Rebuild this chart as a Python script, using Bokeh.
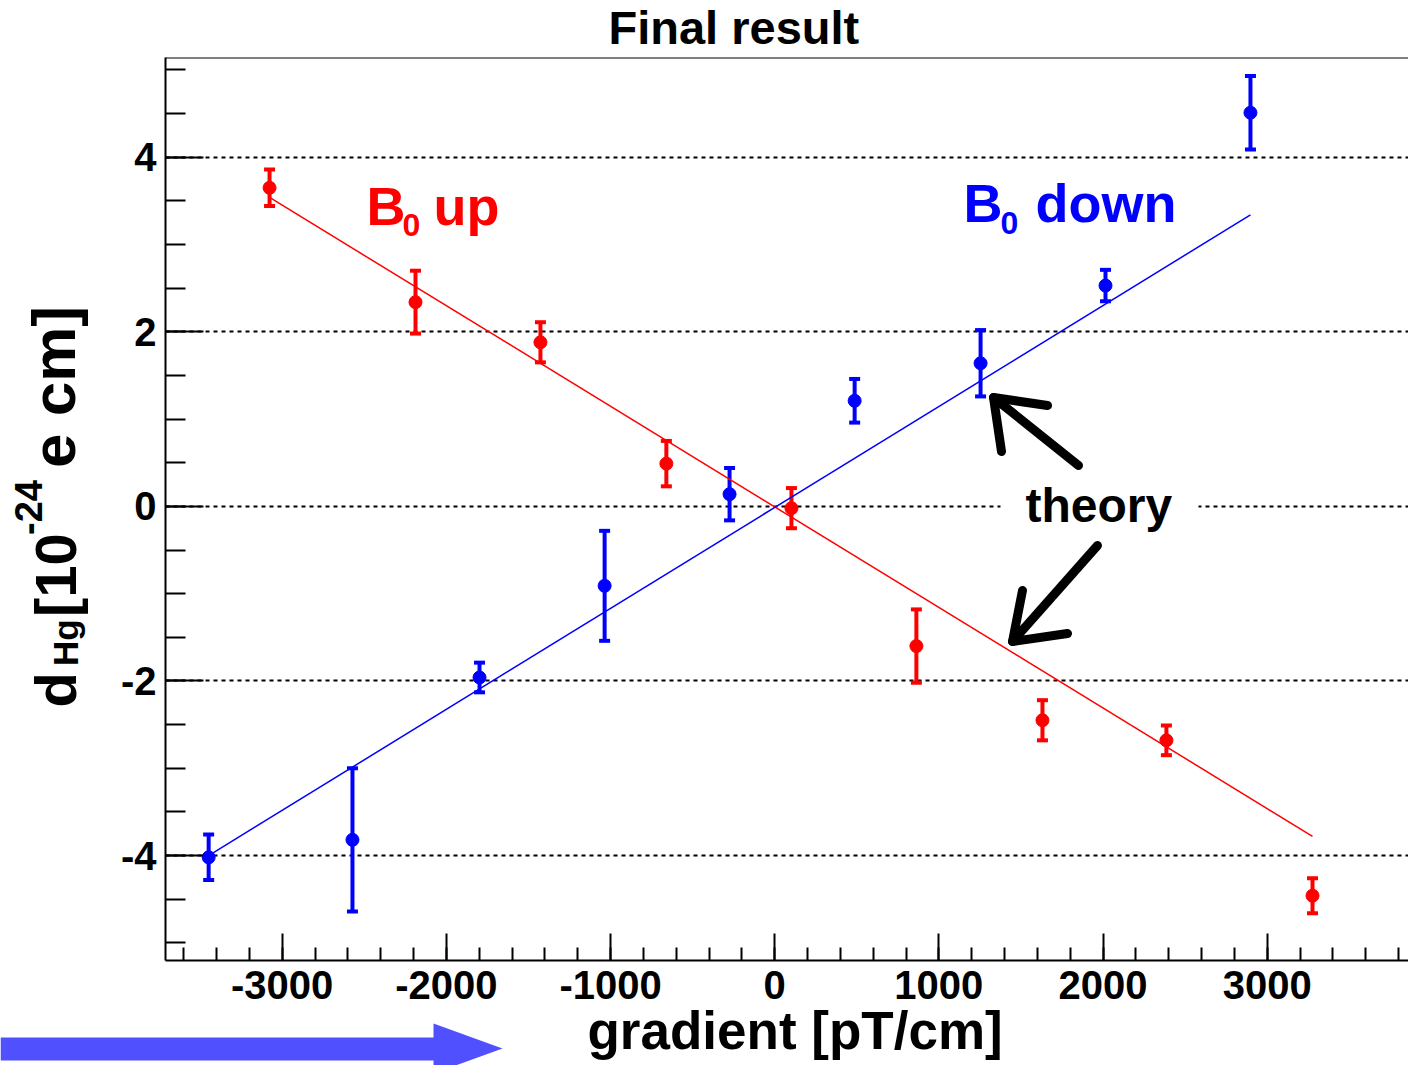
import math
from bokeh.plotting import figure
from bokeh.layouts import column, row
from bokeh.models import (ColumnDataSource, Whisker, TeeHead, Label, Span,
                          FixedTicker, Range1d, CustomJSTickFormatter)
from bokeh.core.properties import value
from bokeh.embed import file_html
from bokeh.resources import INLINE

# ---------------- data ----------------
red_x = [-3077, -2188, -1427, -660, 102, 863, 1631, 2386, 3276]
red_y = [3.65, 2.34, 1.88, 0.49, -0.02, -1.60, -2.45, -2.68, -4.46]
red_err = [0.21, 0.36, 0.23, 0.26, 0.23, 0.42, 0.23, 0.17, 0.20]

blue_x = [-3448, -2572, -1798, -1036, -275, 487, 1254, 2015, 2898]
blue_y = [-4.02, -3.82, -1.96, -0.91, 0.14, 1.21, 1.64, 2.53, 4.51]
blue_err = [0.26, 0.82, 0.17, 0.63, 0.30, 0.25, 0.38, 0.18, 0.42]

red_theory_x = [-3077, 3276]
red_theory_y = [3.54, -3.78]
blue_theory_x = [-3448, 2898]
blue_theory_y = [-4.00, 3.34]

x_ticks = [-3000, -2000, -1000, 0, 1000, 2000, 3000]
x_minor = list(range(-3600, 3801, 200))
y_ticks = [-4, -2, 0, 2, 4]
y_minor = [-5, -4.5, -4, -3.5, -3, -2.5, -2, -1.5, -1, -0.5, 0,
           0.5, 1, 1.5, 2, 2.5, 3, 3.5, 4, 4.5, 5]

# ------------- pixel -> data helpers (annotation placement only) -------------
X0PX, XS = 774.2, 0.164167
Y0PX, YS = 505.9, 87.29


def dx(px):
    return (px - X0PX) / XS


def dy(py):
    return (Y0PX - py) / YS


FONT = "Liberation Sans"
RED = "#ff0000"
BLUE = "#0000ff"
ARROW_BLUE = "#5050ff"
BASE_K = 0.37      # empirical baseline correction (fraction of font size)

# page layout (pixels)
W = 1408
TOP_H = 53          # title strip
MID_H = 957         # main figure height (y 53 .. 1010)
OVERLAP = 12        # bottom strip is pulled up over the tick-label margin
BOT_H = 1065 - (TOP_H + MID_H) + OVERLAP   # x-label / arrow strip (y 998 .. 1065)
LEFT_W = 105        # y-label strip


def aux(w, h, x0, x1, y_top, y_bot):
    f = figure(width=w, height=h, x_range=Range1d(x0, x1), y_range=Range1d(y_bot, y_top),
               output_backend="svg", toolbar_location=None, title=None,
               x_axis_type=None, y_axis_type=None,
               min_border_left=0, min_border_right=0, min_border_top=0, min_border_bottom=0)
    f.outline_line_color = None
    f.background_fill_color = "white"
    f.border_fill_color = "white"
    return f


def txt(f, text, px, py, size, color="black"):
    # horizontal text; (px, py) = left end of the intended baseline
    f.text(x=[px], y=[py - BASE_K * size], text=[text], text_font=value(FONT),
           text_font_style="bold", text_font_size=value(f"{size}px"), text_color=color,
           text_align="left", text_baseline="alphabetic")


def vtxt(f, text, bx, sy, size):
    # vertical text read bottom-to-top; bx = baseline x, sy = start y
    f.text(x=[bx - (0.3 * size + 4)], y=[sy + 30], text=[text], text_font=value(FONT),
           text_font_style="bold", text_font_size=value(f"{size}px"), text_color="black",
           angle=math.pi / 2, text_align="left", text_baseline="alphabetic")


# ---------------- main plot ----------------
p = figure(width=W - LEFT_W, height=MID_H, output_backend="svg", toolbar_location=None,
           title=None,
           x_range=Range1d(dx(165), dx(1408)), y_range=Range1d(dy(960), dy(57)),
           min_border_left=60, min_border_right=0, min_border_top=4,
           min_border_bottom=50)
p.outline_line_color = None
p.background_fill_color = "white"
p.border_fill_color = "white"

fmt = CustomJSTickFormatter(code="return tick.toFixed(0);")
for ax in (p.xaxis[0], p.yaxis[0]):
    ax.axis_line_width = 2
    ax.axis_line_color = "black"
    ax.major_tick_line_width = 2
    ax.minor_tick_line_width = 2
    ax.major_tick_line_color = "black"
    ax.minor_tick_line_color = "black"
    ax.major_tick_out = 0
    ax.minor_tick_out = 0
    ax.major_label_text_font = FONT
    ax.major_label_text_font_style = "bold"
    ax.major_label_text_font_size = "40px"
    ax.major_label_text_color = "black"
    ax.formatter = fmt

p.xaxis.ticker = FixedTicker(ticks=x_ticks, minor_ticks=x_minor)
p.xaxis.major_tick_in = 27
p.xaxis.minor_tick_in = 13
p.xaxis.major_label_standoff = 10

p.yaxis.ticker = FixedTicker(ticks=y_ticks, minor_ticks=y_minor)
p.yaxis.major_tick_in = 38
p.yaxis.minor_tick_in = 20
p.yaxis.major_label_standoff = 9

p.xgrid.visible = False
p.ygrid.ticker = FixedTicker(ticks=y_ticks)
p.ygrid.grid_line_color = "black"
p.ygrid.grid_line_width = 2
p.ygrid.grid_line_dash = "4 4"

# top frame line
p.add_layout(Span(location=dy(57), dimension="width", line_color="black", line_width=2))

# white box behind "theory"
p.quad(left=dx(1000), right=dx(1198), top=dy(465), bottom=dy(543),
       fill_color="white", line_color=None)

# theory lines
p.line(red_theory_x, red_theory_y, line_color=RED, line_width=1.5)
p.line(blue_theory_x, blue_theory_y, line_color=BLUE, line_width=1.5)

# data with error bars
for xs, ys, es, col in ((red_x, red_y, red_err, RED), (blue_x, blue_y, blue_err, BLUE)):
    src = ColumnDataSource(dict(x=xs, y=ys,
                                upper=[y + e for y, e in zip(ys, es)],
                                lower=[y - e for y, e in zip(ys, es)]))
    w = Whisker(source=src, base="x", upper="upper", lower="lower", dimension="height",
                line_color=col, line_width=4,
                upper_head=TeeHead(size=11, line_color=col, line_width=4),
                lower_head=TeeHead(size=11, line_color=col, line_width=4))
    p.add_layout(w)
    p.scatter("x", "y", source=src, size=13, fill_color=col, line_color=col)

# hand-drawn style "theory" arrows
arrow_xs = [[dx(1078), dx(993)], [dx(1047), dx(993), dx(1001)],
            [dx(1097), dx(1012)], [dx(1022), dx(1012), dx(1067)]]
arrow_ys = [[dy(465), dy(397)], [dy(405), dy(397), dy(451)],
            [dy(545), dy(641)], [dy(590), dy(641), dy(633)]]
p.multi_line(arrow_xs, arrow_ys, line_color="black", line_width=9,
             line_cap="round", line_join="round")


def lab(text, px, py, size, color="black"):
    p.add_layout(Label(x=dx(px), y=dy(py - BASE_K * size), text=text, text_font=FONT,
                       text_font_style="bold", text_font_size=f"{size}px",
                       text_color=color, text_align="left",
                       text_baseline="alphabetic"))


lab("theory", 1025, 523, 48)
lab("B", 366, 225, 54, RED)
lab("0", 402, 236, 32, RED)
lab("up", 433, 225, 54, RED)
lab("B", 963, 222, 54, BLUE)
lab("0", 1000, 234, 32, BLUE)
lab("down", 1035, 222, 54, BLUE)

# ---------------- title strip ----------------
top = aux(W, TOP_H, 0, W, 0, TOP_H)
txt(top, "Final result", 608, 44, 47)

# ---------------- y-label strip ----------------
left = aux(LEFT_W, MID_H, 0, LEFT_W, TOP_H, TOP_H + MID_H)
vtxt(left, "d", 76, 712, 58)
vtxt(left, "Hg", 79, 668, 35)
vtxt(left, "[10", 76, 616, 58)
vtxt(left, "-24", 43, 529, 38)
vtxt(left, "e cm]", 76, 458, 62)

# ---------------- bottom strip: x label + blue arrow ----------------
y0 = TOP_H + MID_H - OVERLAP
bot = aux(W, BOT_H, 0, W, y0, y0 + BOT_H)
bot.background_fill_alpha = 0
bot.border_fill_alpha = 0
bot.margin = (-OVERLAP, 0, 0, 0)
txt(bot, "gradient [pT/cm]", 587, 1050, 53)
bot.quad(left=0, right=440, top=1037, bottom=1060, fill_color=ARROW_BLUE, line_color=None)
bot.patch([433, 502, 433], [1023, 1048, 1073], fill_color=ARROW_BLUE, line_color=None)

layout = column(top, row(left, p), bot)
open("out.html", "w").write(file_html(layout, INLINE))
